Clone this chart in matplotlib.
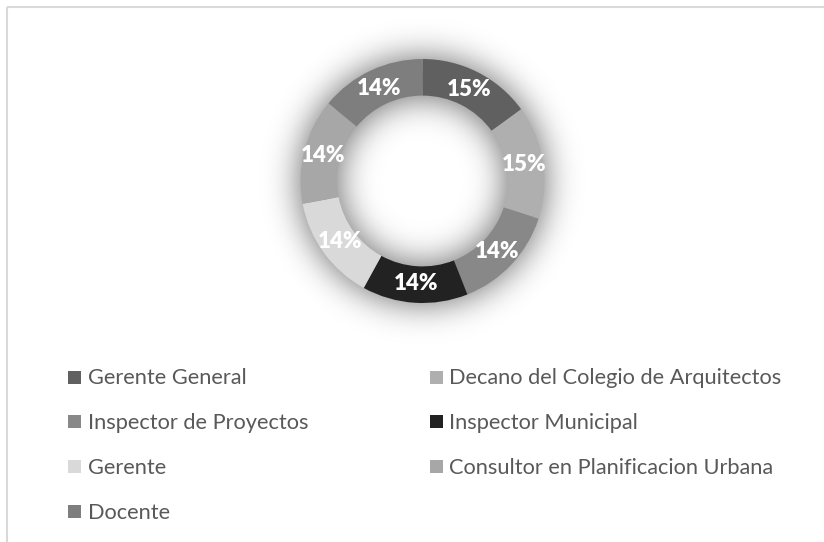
import numpy as np
import matplotlib
matplotlib.use("Agg")
import matplotlib.pyplot as plt
from matplotlib.patches import Rectangle

# Data
categories = [
    "Gerente General",
    "Decano del Colegio de Arquitectos",
    "Inspector de Proyectos",
    "Inspector Municipal",
    "Gerente",
    "Consultor en Planificacion Urbana",
    "Docente",
]
shares = [15, 15, 14, 14, 14, 14, 14]
pct_labels = ["15%", "15%", "14%", "14%", "14%", "14%", "14%"]
colors = ["#606060", "#afafaf", "#888888", "#222222", "#d9d9d9", "#a7a7a7", "#7e7e7e"]

FONT = "Lato"
W, H = 824, 542
fig = plt.figure(figsize=(W / 100, H / 100), dpi=100)
fig.patch.set_facecolor("white")

# Donut geometry in pixels (y measured from top)
cx, cy, R = 422.5, 181.0, 122.0
hole = 0.70

# Soft shadow around the ring: blurred annulus mask
yy, xx = np.mgrid[0:H, 0:W] + 0.5
rr = np.hypot(xx - cx, yy - cy)
mask = np.clip(R - rr + 0.5, 0, 1) * np.clip(rr - R * hole + 0.5, 0, 1)
sigma = 17.0
fy = np.fft.fftfreq(H)[:, None]
fx = np.fft.rfftfreq(W)[None, :]
gauss = np.exp(-2.0 * (np.pi * sigma) ** 2 * (fy ** 2 + fx ** 2))
blur = np.fft.irfft2(np.fft.rfft2(mask) * gauss, s=(H, W))
rgba = np.zeros((H, W, 4))
rgba[..., 3] = np.clip(0.62 * blur, 0, 1)

bg = fig.add_axes([0, 0, 1, 1])
bg.imshow(rgba, extent=(0, W, H, 0), interpolation="bilinear")
bg.set_xlim(0, W)
bg.set_ylim(H, 0)
bg.axis("off")

# Chart frame
bg.add_patch(Rectangle((7.5, 6.5), W + 50, H + 50, fill=False,
                       edgecolor="#d9d9d9", linewidth=1.5))

# Legend (two columns, row-major)
col_x = [68.5, 430.0]
row_y0, row_dy = 377.0, 44.8
box = 13.0
for i, (name, c) in enumerate(zip(categories, colors)):
    row, col = divmod(i, 2)
    mx = col_x[col]
    my = row_y0 + row * row_dy
    bg.add_patch(Rectangle((mx, my - box / 2), box, box, facecolor=c, edgecolor="none"))
    bg.text(mx + box + 6.5, my + 7.5, name, fontsize=15.7, color="#595959",
            family=FONT, va="baseline", ha="left")

# Donut
ax = fig.add_axes([(cx - R) / W, 1 - (cy + R) / H, 2 * R / W, 2 * R / H])
wedges, _ = ax.pie(shares, colors=colors, startangle=90, counterclock=False,
                   radius=1.0, wedgeprops=dict(width=1 - hole, edgecolor="none"))
ax.set_xlim(-1, 1)
ax.set_ylim(-1, 1)
ax.axis("off")

r_lab = (1 + hole) / 2 - 0.01
for w, lab in zip(wedges, pct_labels):
    th = np.deg2rad((w.theta1 + w.theta2) / 2)
    ax.text(r_lab * np.cos(th), r_lab * np.sin(th), lab, ha="center", va="center",
            fontsize=16, fontweight="heavy", color="white", family=FONT)

fig.savefig("out.png", dpi=100, facecolor="white")
